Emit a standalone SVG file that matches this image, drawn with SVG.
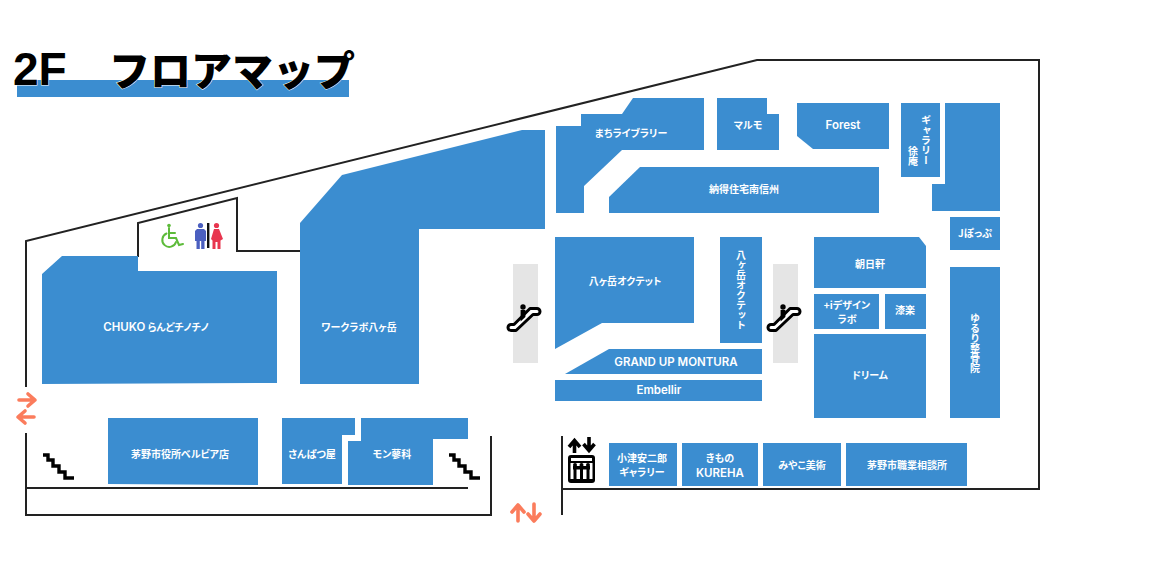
<svg xmlns="http://www.w3.org/2000/svg" width="1160" height="563" viewBox="0 0 1160 563">
<style>
.s{fill:#3b8dd0}
.t{fill:#fff;font-family:"Noto Sans CJK JP","Noto Sans",sans-serif;font-weight:700;font-size:10px;text-anchor:middle;font-feature-settings:"palt"}
.l{font-family:"Inter","Noto Sans CJK JP",sans-serif;font-weight:600;font-size:11.500px}
.v{writing-mode:vertical-rl;font-feature-settings:normal}
.w{fill:none;stroke:#222;stroke-width:2}
.o{fill:none;stroke:#fb7c5c;stroke-width:3.600;stroke-linecap:round;stroke-linejoin:round}
.e{fill:#e5e5e5}
.st{fill:none;stroke:#000;stroke-width:3.400}
.esc{fill:#fff;stroke:#000;stroke-width:3;stroke-linejoin:round}
</style>
<defs>
<g id="escalator">
<path class="esc" d="M-12 8.500h3L7-7.500h7a3 3 0 0 1 0 6h-4L-7 14.500h-5a3 3 0 0 1 0-6z"/>
<circle cx="0" cy="-9" r="2.700" fill="#000"/>
<path d="M-2.400-6h4.800v7l-4.800 4.500z" fill="#000"/>
</g>
<path id="stairs" class="st" d="M0 0h5v5h5v6h6v6h6v6h9"/>
</defs>

<g id="connectors">
<path class="w" d="M26 387V241L757 60H1039V489H562"/>
<path class="w" d="M562 436V515"/>
<path class="w" d="M26 433V515H491V436"/>
<path class="w" d="M26 488H468"/>
<path class="w" d="M138 257V223L237 198V251H300"/>
</g>

<g id="title">
<rect x="17" y="80" width="332" height="17" class="s"/>
<text x="13" y="85" font-family="'Liberation Sans',sans-serif" font-weight="700" font-size="46" fill="#000" stroke="#fff" stroke-width="1" paint-order="stroke">2F</text>
<text x="109" y="86" font-family="'Noto Sans CJK JP',sans-serif" font-weight="900" font-size="41" fill="#000" stroke="#fff" stroke-width="1" paint-order="stroke">フロアマップ</text>
</g>

<g id="chuko"><path class="s" d="M42 384V274L62 256H138V271H277V383z"/><text class="t" x="156" y="331"><tspan class="l">CHUKO</tspan> らんどチノチノ</text></g>
<g id="worklab"><path class="s" d="M300 384V223L342 175L522 130H545V229H419V384z"/><text class="t" x="359" y="331">ワークラボ八ヶ岳</text></g>
<g id="machi"><path class="s" d="M556 213V126H581V114H622L633 98H704V150H622L584 186V213z"/><text class="t" x="631" y="137">まちライブラリー</text></g>
<g id="marumo"><path class="s" d="M717 98H767V114H779V150H717z"/><text class="t" x="748" y="129">マルモ</text></g>
<g id="forest"><path class="s" d="M797 103H889V149H813L797 136z"/><text class="t l" x="843" y="129">Forest</text></g>
<g id="gallery-joan"><rect class="s" x="901" y="103" width="39" height="74"/><text class="t v" x="926" y="140">ギャラリー</text><text class="t v" x="913" y="156">徐庵</text></g>
<g id="blockright"><path class="s" d="M945 103H1000V211H932V184H945z"/></g>
<g id="jpop"><rect class="s" x="950" y="217" width="50" height="33"/><text class="t" x="975" y="237">Jぽっぷ</text></g>
<g id="nattoku"><path class="s" d="M609 213V197L640 167H879V213z"/><text class="t" x="744" y="193">納得住宅南信州</text></g>
<g id="yatsu1"><path class="s" d="M555 237H694V323H602L555 349z"/><text class="t" x="625" y="285">八ヶ岳オクテット</text></g>
<g id="yatsu2"><rect class="s" x="720" y="237" width="42" height="106"/><text class="t v" x="741" y="290">八ヶ岳オクテット</text></g>
<g id="grandup"><path class="s" d="M565 374L609 349H762V374z"/><text class="t l" x="676" y="366">GRAND UP MONTURA</text></g>
<g id="embellir"><rect class="s" x="555" y="380" width="207" height="21"/><text class="t l" x="659" y="394">Embellir</text></g>
<g id="asahi"><path class="s" d="M814 237H919L926 246V288H814z"/><text class="t" x="870" y="268">朝日軒</text></g>
<g id="idesign"><rect class="s" x="814" y="294" width="65" height="35"/><text class="t" x="847" y="309">+iデザイン</text><text class="t" x="847" y="323">ラボ</text></g>
<g id="urushi"><rect class="s" x="885" y="294" width="41" height="35"/><text class="t" x="905" y="314">漆楽</text></g>
<g id="dream"><rect class="s" x="814" y="334" width="112" height="84"/><text class="t" x="870" y="379">ドリーム</text></g>
<g id="yururi"><rect class="s" x="950" y="267" width="50" height="151"/><text class="t v" x="975" y="343">ゆるり整骨院</text></g>
<g id="chinoshi"><path class="s" d="M108 418H258V485L108 484z"/><text class="t" x="180" y="458">茅野市役所ベルビア店</text></g>
<g id="sanpatsu"><path class="s" d="M282 418H355V435H342V484H282z"/><text class="t" x="312" y="458">さんぱつ屋</text></g>
<g id="mon"><path class="s" d="M361 418H468V439H433V485H348V441H361z"/><text class="t" x="392" y="458">モン蓼科</text></g>
<g id="ozu"><rect class="s" x="609" y="443" width="68" height="43"/><text class="t" x="642" y="462">小津安二郎</text><text class="t" x="642" y="476">ギャラリー</text></g>
<g id="kureha"><rect class="s" x="682" y="443" width="76" height="43"/><text class="t" x="720" y="462">きもの</text><text class="t l" x="720" y="477">KUREHA</text></g>
<g id="miyako"><rect class="s" x="763" y="443" width="78" height="43"/><text class="t" x="802" y="469">みやこ美術</text></g>
<g id="shokugyo"><rect class="s" x="846" y="443" width="121" height="43"/><text class="t" x="907" y="469">茅野市職業相談所</text></g>

<g id="esc1"><rect class="e" x="513" y="264" width="25" height="99"/><use href="#escalator" x="523" y="316"/></g>
<g id="esc2"><rect class="e" x="773" y="264" width="25" height="99"/><use href="#escalator" x="783" y="316"/></g>
<g id="stairs1"><use href="#stairs" x="43" y="455"/></g>
<g id="stairs2"><use href="#stairs" x="449" y="455"/></g>

<g id="arrows-left" class="o"><path d="M19 400H34M28 394L35 400L28 406"/><path d="M34 417H19M25 411L18 417L25 423"/></g>
<g id="arrows-bottom" class="o"><path d="M518 521V506M512 512L518 505L524 512"/><path d="M534 504V520M528 514L534 521L540 514"/></g>

<g id="elevator">
<path d="M574.500 453V441M569 447L574.500 440.500L580 447" fill="none" stroke="#000" stroke-width="3.600"/>
<path d="M589 437V450M583.500 444L589 450.500L594.500 444" fill="none" stroke="#000" stroke-width="3.600"/>
<rect x="568" y="455" width="27" height="28" rx="3" fill="#000"/>
<rect x="571" y="458" width="21" height="3" fill="#fff"/>
<rect x="570.500" y="463" width="22" height="16" fill="#fff"/>
<g fill="#000"><circle cx="575" cy="465" r="2"/><circle cx="581.500" cy="465" r="2"/><circle cx="588" cy="465" r="2"/><rect x="573" y="466" width="17" height="3.500"/><rect x="573.500" y="466" width="3" height="13"/><rect x="580" y="466" width="3" height="13"/><rect x="586.500" y="466" width="3" height="13"/></g>
</g>

<g id="restroom">
<g fill="none" stroke="#5dbb3a" stroke-width="2" stroke-linecap="round">
<circle cx="169" cy="225.500" r="1.800" fill="#5dbb3a" stroke="none"/>
<path d="M169 228V238H176L179 245L183 244"/>
<path d="M169 233H175"/>
<path d="M166.500 233.500A7 7 0 1 0 176 242"/>
</g>
<g fill="#4b5fc0"><circle cx="200.500" cy="225.500" r="2.600"/><path d="M197 229H204L206 231V241H204.500V249H201.200V241H199.800V249H196.500V241H195V231z"/></g>
<rect x="207" y="223" width="2.400" height="25" fill="#111"/>
<g fill="#e8364f"><circle cx="216.500" cy="225.500" r="2.600"/><path d="M214 229H219L223 239L220.500 240.500V249H217.500V242H215.500V249H212.500V240.500L211 239z"/></g>
</g>
</svg>
